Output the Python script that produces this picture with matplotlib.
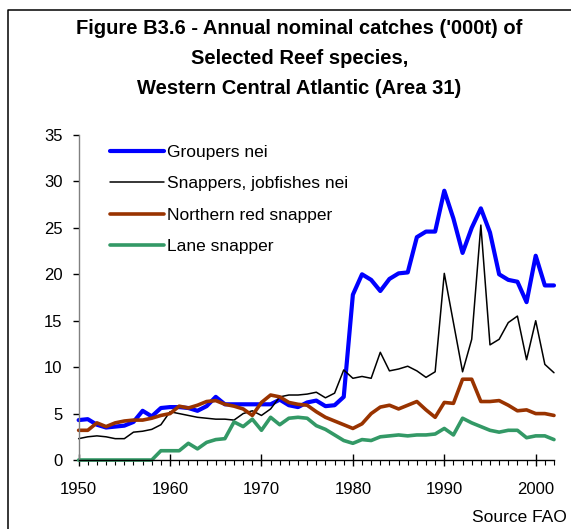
import numpy as np
import matplotlib
matplotlib.use("Agg")
import matplotlib.pyplot as plt
from matplotlib.lines import Line2D
from matplotlib.ticker import MultipleLocator

# ---- Data ('000 t) ----
years = np.arange(1950, 2003)

groupers = [4.3, 4.4, 3.8, 3.5, 3.6, 3.7, 4.1, 5.3, 4.7, 5.6,
            5.7, 5.7, 5.6, 5.3, 5.8, 6.8, 6.0, 6.0, 6.0, 6.0,
            6.0, 6.0, 6.5, 5.9, 5.7, 6.2, 6.4, 5.8, 5.9, 6.8,
            17.8, 20.0, 19.4, 18.2, 19.5, 20.1, 20.2, 24.0, 24.6, 24.6,
            29.0, 26.0, 22.3, 25.0, 27.1, 24.5, 20.0, 19.4, 19.2, 17.0,
            22.0, 18.8, 18.8]

snappers = [2.3, 2.5, 2.6, 2.5, 2.3, 2.3, 3.0, 3.1, 3.3, 3.8,
            5.2, 5.0, 4.8, 4.6, 4.5, 4.4, 4.4, 4.3, 5.0, 5.3,
            4.8, 5.5, 6.8, 7.0, 7.0, 7.1, 7.3, 6.7, 7.2, 9.7,
            8.8, 9.0, 8.8, 11.6, 9.6, 9.8, 10.1, 9.6, 8.9, 9.5,
            20.1, 14.8, 9.5, 13.0, 25.3, 12.4, 13.0, 14.8, 15.5, 10.8,
            15.0, 10.3, 9.4]

red_snapper = [3.2, 3.2, 4.0, 3.6, 4.0, 4.2, 4.3, 4.3, 4.5, 4.8,
               5.0, 5.8, 5.6, 5.9, 6.3, 6.4, 6.0, 5.8, 5.5, 4.8,
               6.2, 7.0, 6.8, 6.2, 6.0, 5.9, 5.2, 4.6, 4.2, 3.8,
               3.4, 3.9, 5.0, 5.7, 5.9, 5.5, 5.9, 6.3, 5.4, 4.6,
               6.2, 6.1, 8.7, 8.7, 6.3, 6.3, 6.4, 5.9, 5.3, 5.4,
               5.0, 5.0, 4.8]

lane_snapper = [0, 0, 0, 0, 0, 0, 0, 0, 0, 1.0,
                1.0, 1.0, 1.8, 1.2, 1.9, 2.2, 2.3, 4.1, 3.6, 4.4,
                3.2, 4.6, 3.8, 4.5, 4.6, 4.5, 3.7, 3.3, 2.7, 2.1,
                1.8, 2.2, 2.1, 2.5, 2.6, 2.7, 2.6, 2.7, 2.7, 2.8,
                3.4, 2.7, 4.5, 4.0, 3.6, 3.2, 3.0, 3.2, 3.2, 2.4,
                2.6, 2.6, 2.2]

series = [
    ("Groupers nei", groupers, "#0000FF", 3.0),
    ("Snappers, jobfishes nei", snappers, "#000000", 1.1),
    ("Northern red snapper", red_snapper, "#993300", 2.6),
    ("Lane snapper", lane_snapper, "#339966", 2.6),
]

title_lines = [
    "Figure B3.6 - Annual nominal catches ('000t) of",
    "Selected Reef species,",
    "Western Central Atlantic (Area 31)",
]

plt.rcParams["font.family"] = ["Liberation Sans", "DejaVu Sans"]

fig = plt.figure(figsize=(5.71, 5.29), dpi=100)
ax = fig.add_axes([0.1377, 0.1304, 0.8325, 0.6144])

for label, values, color, lw in series:
    ax.plot(years, values, color=color, lw=lw, label=label,
            solid_joinstyle="round", solid_capstyle="round", clip_on=False)

ax.set_xlim(1950, 2002)
ax.set_ylim(0, 35)
ax.xaxis.set_major_locator(MultipleLocator(10))
ax.xaxis.set_minor_locator(MultipleLocator(1))
ax.yaxis.set_major_locator(MultipleLocator(5))

for side in ("top", "right"):
    ax.spines[side].set_visible(False)
ax.spines["left"].set_color("#808080")
ax.spines["left"].set_linewidth(1.0)
ax.spines["bottom"].set_linewidth(1.0)

ax.tick_params(axis="x", which="major", direction="inout", length=9,
               width=1, pad=11, labelsize=12)
ax.tick_params(axis="x", which="minor", direction="out", length=3.5, width=0.8)
ax.tick_params(axis="y", which="major", direction="out", length=4.5,
               width=1, pad=7, labelsize=12)

ax.legend(loc="upper left", bbox_to_anchor=(0.066, 0.970), frameon=False,
          borderpad=0, borderaxespad=0, handlelength=3.1, handletextpad=0.2,
          labelspacing=0.94, fontsize=12.5)

# title block
for i, line in enumerate(title_lines):
    fig.text(0.524, 1 - (28 + 30 * i) / 529, line, ha="center", va="center",
             fontsize=14.5, fontweight="bold")

fig.text(0.992, 0.021, "Source FAO", ha="right", va="center", fontsize=12.5)

# frame around the figure (left and top edges)
fx = 7.5 / 571
fy = 1 - 10 / 529
fig.add_artist(Line2D([fx, fx, 1.0], [0.0, fy, fy], transform=fig.transFigure,
                      color="black", lw=1.1))

fig.savefig("out.png", dpi=100)
